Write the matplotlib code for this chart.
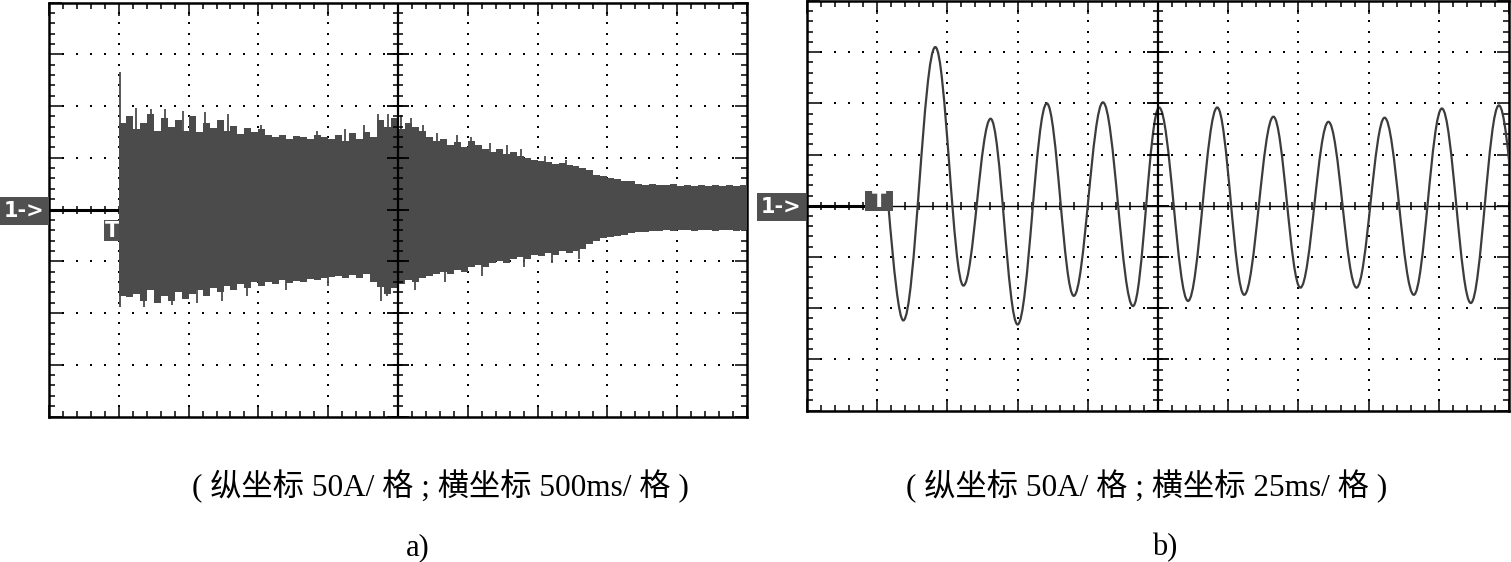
import matplotlib.pyplot as plt
import numpy as np
from matplotlib.path import Path
from matplotlib.patches import PathPatch, Rectangle

plt.rcParams['font.family'] = ['Liberation Serif', 'Noto Sans CJK SC']

W, H = 1511, 562

# ---- panel a) : 500 ms/div, 50 A/div, time in s from trigger ----
band_t = [round(0.05 * i, 2) for i in range(91)]
band_hi = [84, 90, 78, 84, 92, 76, 88, 80, 86, 76,
           90, 75, 84, 79, 86, 76, 81, 73, 79, 75,
           78, 72, 70, 72, 68, 71, 70, 68, 72, 70,
           68, 72, 66, 74, 68, 75, 70, 86, 80, 88,
           78, 84, 80, 76, 70, 66, 68, 62, 65, 60,
           66, 62, 58, 56, 58, 54, 56, 52, 50, 48,
           47, 46, 44, 45, 43, 42, 40, 38, 33, 32,
           30, 29, 28, 28, 25, 24, 25, 24, 24, 25,
           23, 24, 23, 24, 23, 24, 23, 24, 23, 24,
           24]
band_lo = [-84, -85, -82, -88, -78, -90, -84, -88, -80, -86,
           -82, -78, -84, -76, -80, -74, -78, -72, -76, -70,
           -74, -70, -72, -68, -71, -69, -70, -67, -68, -66,
           -65, -64, -66, -63, -66, -62, -70, -75, -82, -76,
           -72, -68, -70, -66, -64, -62, -60, -62, -58, -60,
           -56, -54, -56, -52, -50, -52, -48, -46, -48, -44,
           -45, -42, -44, -40, -42, -40, -38, -33, -30, -28,
           -27, -26, -25, -23, -22, -22, -21, -21, -20, -21,
           -20, -20, -21, -20, -20, -21, -20, -20, -21, -20,
           -20]
spike_hi_t = [0.01, 0.12, 0.23, 0.33, 0.46, 0.62, 0.78, 1.02, 1.42, 1.62, 1.76,
              1.86, 1.93, 2.02, 2.09, 2.18, 2.28, 2.42, 2.52, 2.66, 2.78, 2.88, 3.05, 3.2]
spike_hi_v = [133, 98, 97, 97, 95, 94, 92, 82, 76, 78, 82,
              92, 92, 91, 88, 82, 74, 72, 70, 64, 62, 58, 52, 48]
spike_lo_t = [0.01, 0.18, 0.38, 0.56, 0.74, 0.92, 1.2, 1.5, 1.88, 1.92,
              2.12, 2.34, 2.6, 2.9, 3.1, 3.3]
spike_lo_v = [-94, -94, -92, -90, -88, -84, -78, -74, -88, -84,
              -78, -70, -64, -56, -52, -48]

# ---- panel b) : 25 ms/div, 50 A/div, extrema of the trace (ms, A) ----
wave_start = 4.0
ext_t = [9.3, 20.7, 30.7, 40.4, 50.0, 60.4, 70.0, 80.4, 91.1, 100.4, 110.7, 121.1,
         130.7, 141.1, 150.7, 160.7, 170.7, 180.7, 191.1, 201.1, 211.4, 221.4, 231.6]
ext_v = [-112, 155, -78, 85, -116, 100, -88, 101, -98, 96, -93, 96,
         -87, 87, -80, 82, -80, 86, -87, 95, -95, 98, -95]

cap_a = '( 纵坐标 50A/ 格 ; 横坐标 500ms/ 格 )'
cap_b = '( 纵坐标 50A/ 格 ; 横坐标 25ms/ 格 )'

dark = '#4b4b4b'


def scope(ax, x0, div):
    x1 = x0 + 10 * div
    ax.set_xlim(x0, x1)
    ax.set_ylim(-200, 200)
    ax.set_xticks([x0 + i * div for i in range(11)])
    ax.set_xticks([x0 + i * div / 5 for i in range(51)], minor=True)
    ax.set_yticks([-200 + 50 * i for i in range(9)])
    ax.set_yticks([-200 + 10 * i for i in range(41)], minor=True)
    ax.tick_params(which='both', direction='in', top=True, right=True,
                   labelbottom=False, labelleft=False, color='k', width=1.1)
    ax.tick_params(which='major', length=9)
    ax.tick_params(which='minor', length=4.5)
    for s in ax.spines.values():
        s.set_linewidth(1.8)
    xs_min = [x0 + i * div / 5 for i in range(51)]
    ys_min = [-200 + 10 * i for i in range(41)]
    xc = x0 + 5 * div
    # dotted graticule
    for i in range(1, 10):
        xg = x0 + i * div
        if i != 5:
            ax.plot([xg] * len(ys_min), ys_min, 's', ms=1.6, color='k', mew=0, zorder=1)
    for yg in [-150, -100, -50, 50, 100, 150]:
        ax.plot(xs_min, [yg] * len(xs_min), 's', ms=1.6, color='k', mew=0, zorder=1)
    # centre cross with ticks
    ax.axhline(0, color='k', lw=1.0, zorder=1)
    ax.axvline(xc, color='k', lw=1.6, zorder=5)
    ax.plot(xs_min, [0] * len(xs_min), '|', ms=6, mew=1.1, color='k', zorder=1)
    ax.plot([xc] * len(ys_min), ys_min, '_', ms=7, mew=1.1, color='k', zorder=5)
    ax.plot([xc] * 9, [-200 + 50 * i for i in range(9)], '_', ms=16, mew=1.3, color='k', zorder=5)


fig = plt.figure(figsize=(W / 100, H / 100), dpi=100)
ax1 = fig.add_axes([49 / W, 1 - 416.5 / H, 698 / W, 414 / H])
ax2 = fig.add_axes([807 / W, 1 - 410.5 / H, 702 / W, 409.5 / H])

# panel a
scope(ax1, -0.5, 0.5)
ax1.plot([-0.5, 0], [0, 0], color='k', lw=2.2, zorder=3)
ax1.add_patch(Rectangle((-0.107, -30), 0.2, 19.5, color='#505050', lw=0, zorder=2))
ax1.text(-0.05, -20.5, 'T', color='white', fontsize=15, fontweight='bold',
         family='DejaVu Sans', ha='center', va='center', zorder=2.5)
ax1.fill_between(band_t, band_lo, band_hi, step='post', color=dark, lw=0, zorder=3)
ax1.vlines(spike_hi_t, 0, spike_hi_v, color=dark, lw=1.3, zorder=3)
ax1.vlines(spike_lo_t, 0, spike_lo_v, color=dark, lw=1.3, zorder=3)

# panel b
scope(ax2, -25, 25)
ax2.plot([-25, wave_start], [0, 0], color='k', lw=2.2, zorder=3)
c = 1 - 2 / np.pi
verts = [(wave_start, 0)]
codes = [Path.MOVETO]
d = ext_t[0] - wave_start
verts += [(wave_start + 0.35 * d, ext_v[0] * 0.55), (ext_t[0] - 0.3 * d, ext_v[0]), (ext_t[0], ext_v[0])]
codes += [Path.CURVE4] * 3
for i in range(1, len(ext_t)):
    ta, va, tb, vb = ext_t[i - 1], ext_v[i - 1], ext_t[i], ext_v[i]
    h = tb - ta
    verts += [(ta + c * h, va), (tb - c * h, vb), (tb, vb)]
    codes += [Path.CURVE4] * 3
ax2.add_patch(PathPatch(Path(verts, codes), fill=False, ec='#3c3c3c', lw=1.6, zorder=3))
ax2.add_patch(Rectangle((-4.3, -5.4), 10.0, 19.6, color='#505050', lw=0, zorder=4))
ax2.text(0.7, 4.4, 'T', color='white', fontsize=15, fontweight='bold',
         family='DejaVu Sans', ha='center', va='center', zorder=6)

# channel markers
for x, y in [(0, 197), (757, 193)]:
    fig.add_artist(Rectangle((x / W, 1 - (y + 28) / H), 49 / W, 28 / H,
                             transform=fig.transFigure, color='#505050', lw=0))
    fig.text((x + 24) / W, 1 - (y + 14) / H, '1->', color='white', fontsize=15,
             fontweight='bold', family='DejaVu Sans', ha='center', va='center')

# captions
fig.text(440 / W, 1 - 486 / H, cap_a, fontsize=22.5, ha='center', va='center')
fig.text(1147 / W, 1 - 486 / H, cap_b, fontsize=22.5, ha='center', va='center')
fig.text(418 / W, 1 - 548 / H, 'a)', fontsize=22, ha='center', va='center')
fig.text(1165 / W, 1 - 548 / H, 'b)', fontsize=22, ha='center', va='center')

fig.savefig('out.png', dpi=100)
plt.close()
